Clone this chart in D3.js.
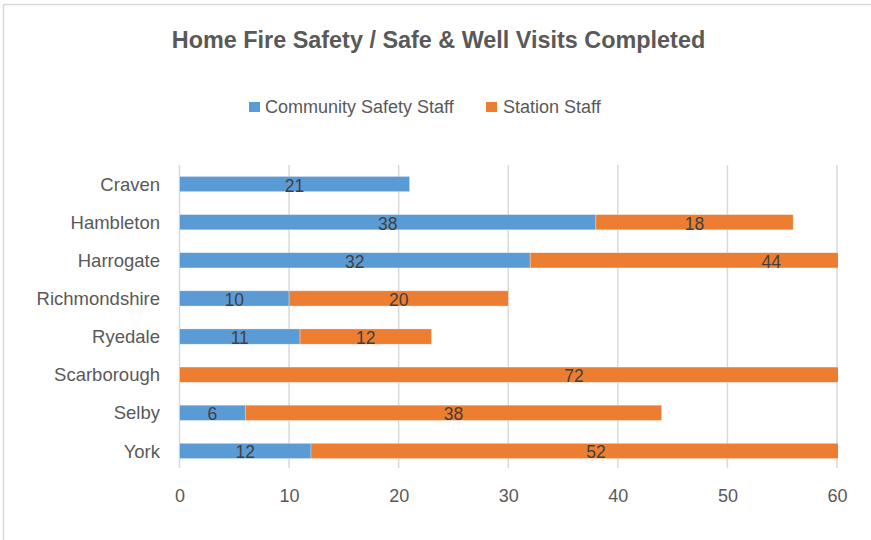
<!DOCTYPE html>
<html>
<head>
<meta charset="utf-8">
<style>
    body { margin: 0; background: #fff; }
    svg text { font-family: 'Liberation Sans', Arial, sans-serif; }
</style>
</head>
<body>
<div id="chart"></div>
<script src="https://cdn.jsdelivr.net/npm/d3@7"></script>
<script>
    var areas = ['Craven', 'Hambleton', 'Harrogate', 'Richmondshire', 'Ryedale', 'Scarborough', 'Selby', 'York'];
    var community_safety = [21, 38, 32, 10, 11, 0, 6, 12];
    var station_staff = [0, 18, 44, 20, 12, 72, 38, 52];
    var series_names = ['Community Safety Staff', 'Station Staff'];
    var x_ticks = [0, 10, 20, 30, 40, 50, 60];

    var width = 871, height = 540;
    var clr = d3.scaleOrdinal().domain(series_names).range(['#5B9BD5', '#ED7D31']);

    var rows = areas.map(function(a, i){
        return {area: a, 'Community Safety Staff': community_safety[i], 'Station Staff': station_staff[i]};
    });
    var stacked = d3.stack().keys(series_names)(rows);

    var x_scale = d3.scaleLinear().domain([0, 60]).range([179.5, 837]);
    var y_scale = d3.scaleBand().domain(areas).range([165, 470]).paddingInner(0.6).paddingOuter(0.3);

    var svg = d3.select('#chart').append('svg')
        .attr('width', width)
        .attr('height', height);

    // chart frame
    svg.append('rect')
        .attr('x', 3.5).attr('y', 4.5)
        .attr('width', 900).attr('height', 600)
        .attr('fill', 'none')
        .attr('stroke', '#D9D9D9')
        .attr('stroke-width', 1.5);

    svg.append('text')
        .attr('x', 438.5)
        .attr('y', 48)
        .attr('text-anchor', 'middle')
        .attr('font-size', 23.4)
        .attr('font-weight', 'bold')
        .attr('fill', '#595959')
        .text('Home Fire Safety / Safe & Well Visits Completed');

    // legend
    var legend_pos = [[249, 265], [486, 503]];
    var legend = svg.selectAll('g.legend')
        .data(series_names)
        .enter().append('g')
        .attr('class', 'legend');
    legend.append('rect')
        .attr('x', function(d, i){ return legend_pos[i][0]; })
        .attr('y', 102)
        .attr('width', 11).attr('height', 10)
        .attr('fill', function(d){ return clr(d); });
    legend.append('text')
        .attr('x', function(d, i){ return legend_pos[i][1]; })
        .attr('y', 113)
        .attr('font-size', 18)
        .attr('fill', '#595959')
        .text(function(d){ return d; });

    // gridlines
    svg.selectAll('line.grid')
        .data(x_ticks)
        .enter().append('line')
        .attr('class', 'grid')
        .attr('x1', function(d){ return x_scale(d); })
        .attr('x2', function(d){ return x_scale(d); })
        .attr('y1', 165)
        .attr('y2', 468)
        .attr('stroke', '#D9D9D9')
        .attr('stroke-width', 1.5);

    // x axis labels
    var x_axis = svg.append('g')
        .attr('transform', 'translate(0,502)')
        .call(d3.axisBottom(x_scale).tickValues(x_ticks).tickSize(0).tickPadding(0));
    x_axis.select('.domain').remove();
    x_axis.selectAll('text')
        .attr('dy', 0)
        .attr('y', 0)
        .attr('font-size', 18)
        .attr('font-family', 'Liberation Sans, Arial, sans-serif')
        .attr('fill', '#595959');

    // y axis labels
    var y_axis = svg.append('g')
        .attr('transform', 'translate(160,0)')
        .call(d3.axisLeft(y_scale).tickSize(0).tickPadding(0));
    y_axis.select('.domain').remove();
    y_axis.selectAll('text')
        .attr('dy', '0.36em')
        .attr('font-size', 18.5)
        .attr('font-family', 'Liberation Sans, Arial, sans-serif')
        .attr('fill', '#595959');

    svg.append('clipPath').attr('id', 'plot_clip')
        .append('rect')
        .attr('x', x_scale(0)).attr('y', 150)
        .attr('width', x_scale(60) - x_scale(0) + 1).attr('height', 330);

    var layers = svg.append('g')
        .attr('clip-path', 'url(#plot_clip)')
        .selectAll('g.layer')
        .data(stacked)
        .enter().append('g')
        .attr('class', 'layer')
        .attr('fill', function(d){ return clr(d.key); });

    layers.selectAll('rect')
        .data(function(d){ return d; })
        .enter().append('rect')
        .attr('x', function(d){ return x_scale(d[0]); })
        .attr('y', function(d){ return y_scale(d.data.area); })
        .attr('width', function(d){ return x_scale(d[1]) - x_scale(d[0]); })
        .attr('height', y_scale.bandwidth())
        .attr('stroke', '#fff')
        .attr('stroke-opacity', 0.5)
        .attr('stroke-width', 0.6);

    // data labels, centred on full segment
    var label_data = [];
    stacked.forEach(function(layer){
        layer.forEach(function(d){
            if (d[1] - d[0] > 0) label_data.push(d);
        });
    });
    svg.selectAll('text.val')
        .data(label_data)
        .enter().append('text')
        .attr('class', 'val')
        .attr('x', function(d){ return x_scale((d[0] + d[1]) / 2); })
        .attr('y', function(d){ return y_scale(d.data.area) + y_scale.bandwidth() / 2 + 7.5; })
        .attr('text-anchor', 'middle')
        .attr('font-size', 17.5)
        .attr('fill', '#404040')
        .text(function(d){ return d[1] - d[0]; });
</script>
</body>
</html>
